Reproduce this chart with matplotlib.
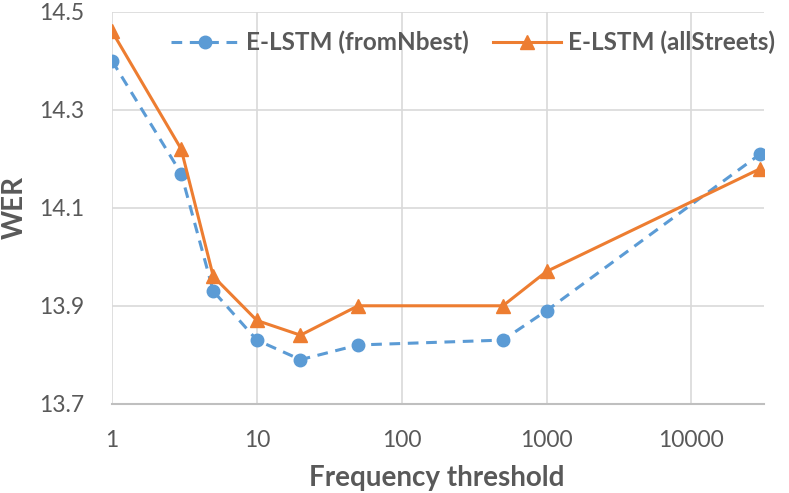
import matplotlib
matplotlib.use("Agg")
import matplotlib.pyplot as plt
from matplotlib.ticker import FixedLocator, FixedFormatter, NullLocator

plt.rcParams['font.family'] = ['Lato', 'DejaVu Sans']

# data
thresholds = [1, 3, 5, 10, 20, 50, 500, 1000, 30000]
wer_fromnbest = [14.40, 14.17, 13.93, 13.83, 13.79, 13.82, 13.83, 13.89, 14.21]
wer_allstreets = [14.46, 14.22, 13.96, 13.87, 13.84, 13.90, 13.90, 13.97, 14.18]
x_ticks = [1, 10, 100, 1000, 10000]
x_labels = ['1', '10', '100', '1000', '10000']
y_ticks = [13.7, 13.9, 14.1, 14.3, 14.5]

BLUE = '#5B9BD5'
ORANGE = '#ED7D31'
TEXT = '#595959'
GRID = '#D9D9D9'

fig = plt.figure(figsize=(7.89, 4.93), dpi=100)
ax = fig.add_axes([0.142, 0.181, 0.826, 0.795])

ax.plot(thresholds, wer_fromnbest, color=BLUE, linestyle=(0, (3.5, 2.5)), linewidth=2.2,
        marker='o', markersize=9, label='E-LSTM (fromNbest)', zorder=3)
ax.plot(thresholds, wer_allstreets, color=ORANGE, linestyle='-', linewidth=2.2,
        marker='^', markersize=10, label='E-LSTM (allStreets)', zorder=4)

ax.set_xscale('log')
ax.set_xlim(1, 10 ** 4.5)
ax.set_ylim(13.7, 14.5)
ax.xaxis.set_major_locator(FixedLocator(x_ticks))
ax.xaxis.set_major_formatter(FixedFormatter(x_labels))
ax.xaxis.set_minor_locator(NullLocator())
ax.set_yticks(y_ticks)
ax.set_yticklabels([f'{v:.1f}' for v in y_ticks])

ax.grid(True, color=GRID, linewidth=1.2)
ax.set_axisbelow(True)
for s in ['top', 'right', 'left']:
    ax.spines[s].set_visible(False)
ax.spines['bottom'].set_color('#BFBFBF')
ax.spines['bottom'].set_linewidth(1.5)
ax.tick_params(length=0, labelsize=16.5, colors=TEXT)
ax.tick_params(axis='x', pad=19)
ax.tick_params(axis='y', pad=20)

ax.set_xlabel('Frequency threshold', fontsize=20, fontweight='bold', color=TEXT, va='center')
ax.set_ylabel('WER', fontsize=20, fontweight='bold', color=TEXT, va='center', ha='center')
ax.xaxis.set_label_coords(0.498, -0.189)
ax.yaxis.set_label_coords(-0.149, 0.5)

leg = ax.legend(loc='center', bbox_to_anchor=(0.554, 0.921), ncol=2, frameon=False,
                fontsize=17.5, handlelength=2.8, columnspacing=1.0, handletextpad=0.3)
for t in leg.get_texts():
    t.set_color(TEXT)
    t.set_fontweight('bold')

fig.savefig('out.png', dpi=100)
